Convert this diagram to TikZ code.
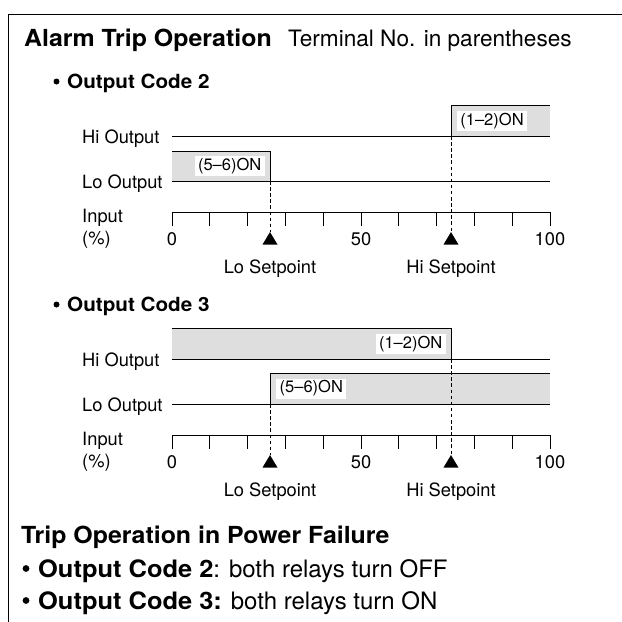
\documentclass[tikz,border=0pt]{standalone}
\usepackage{fontspec}
\setmainfont{TeX Gyre Heros}[BoldFeatures={FakeStretch=1.06}]
\definecolor{OnGray}{RGB}{222,222,222}
\tikzset{
  chartline/.style={line width=0.9pt},
  setline/.style={line width=0.8pt, dash pattern=on 3.5pt off 2.6pt},
  lbl/.style={inner sep=0pt, font=\fontsize{18.3}{22}\selectfont},
  onlbl/.style={fill=white, inner xsep=3.5pt, inner ysep=0pt, minimum height=20pt,
                font=\fontsize{16.5}{19}\selectfont},
  headbold/.style={anchor=base west, inner sep=0pt, font=\fontsize{23.5}{27}\selectfont\bfseries},
  subhead/.style={anchor=base west, inner sep=0pt, font=\fontsize{19.5}{23}\selectfont\bfseries},
  bodytxt/.style={anchor=base west, inner sep=0pt, font=\fontsize{24}{27}\selectfont}
}

\begin{document}
\begin{tikzpicture}[x=1pt, y=-1pt]
  \useasboundingbox (0,0) rectangle (622,622);
  % frame
  \draw[line width=1.4pt] (8.3,622) -- (8.3,14.7) -- (622,14.7);
  % heading
  \node[headbold] (title) at (24,46) {Alarm Trip Operation};
  \node[bodytxt, font=\fontsize{22.6}{26}\selectfont] (terminal) at (288,46) {Terminal No. in parentheses};
  \fill (56.5,81.5) circle (3);
  \node[subhead] (code2) at (67,88) {Output Code 2};
  \fill (56.5,304.5) circle (3);
  \node[subhead] (code3) at (67,311) {Output Code 3};

  % ON areas, code 2
  \fill[OnGray] (172,151) rectangle (270,181);
  \draw[chartline] (172,151) -| (270,181);
  \fill[OnGray] (451,105) rectangle (550,136);
  \draw[chartline] (451,136) |- (550,105);
  % ON areas, code 3
  \fill[OnGray] (172,328) rectangle (451,359);
  \draw[chartline] (172,328) -| (451,359);
  \fill[OnGray] (270,373) rectangle (550,404);
  \draw[chartline] (270,404) |- (550,373);

  % output lines, input scale and setpoints
  \foreach \c/\dy in {2/0, 3/223} {
    \begin{scope}[yshift=-\dy pt]
      \node[lbl, anchor=base west] (hiout\c) at (82,143) {Hi Output};
      \node[lbl, anchor=base west] (loout\c) at (82,188) {Lo Output};
      \node[lbl, anchor=base west] (input\c) at (82,222) {Input};
      \node[lbl, anchor=base west] (pct\c) at (82,244) {(\%)};
      \draw[chartline] (172,136) -- (550,136);
      \draw[chartline] (172,181) -- (550,181);
      \draw[chartline] (172,212) -- (550,212);
      \foreach \t in {0,...,10}
        \draw[chartline] ({172+37.8*\t},212) -- ++(0,14);
      \node[lbl, anchor=base] (zero\c) at (172,245) {0};
      \node[lbl, anchor=base] (fifty\c) at (361,245) {50};
      \node[lbl, anchor=base] (hundred\c) at (550,245) {100};
      \coordinate (lotop\c) at (270,181);
      \coordinate (losp\c) at (270,232);
      \coordinate (hitop\c) at (451,136);
      \coordinate (hisp\c) at (451,232);
      \draw[setline] (lotop\c) -- (losp\c);
      \draw[setline] (hitop\c) -- (hisp\c);
      \fill (losp\c) -- ++(-7.5,12.5) -- ++(15,0) -- cycle;
      \fill (hisp\c) -- ++(-7.5,12.5) -- ++(15,0) -- cycle;
      \node[lbl, anchor=base] (lolbl\c) at (270,273) {Lo Setpoint};
      \node[lbl, anchor=base] (hilbl\c) at (451,273) {Hi Setpoint};
    \end{scope}
  }

  % terminal labels
  \node[onlbl, anchor=east] (lo56a) at (265,166) {(5–6)ON};
  \node[onlbl, anchor=west] (hi12a) at (456.7,121) {(1–2)ON};
  \node[onlbl, anchor=east] (hi12b) at (446,344) {(1–2)ON};
  \node[onlbl, anchor=west] (lo56b) at (276,388.5) {(5–6)ON};

  % power failure
  \node[headbold] (fail) at (21,543) {Trip Operation in Power Failure};
  \fill (26,568.5) circle (3.4);
  \node[bodytxt] (fail2) at (38,577) {\textbf{Output Code 2}: both relays turn OFF};
  \fill (26,600.5) circle (3.4);
  \node[bodytxt] (fail3) at (38,609) {\textbf{Output Code 3:} both relays turn ON};
\end{tikzpicture}
\end{document}
